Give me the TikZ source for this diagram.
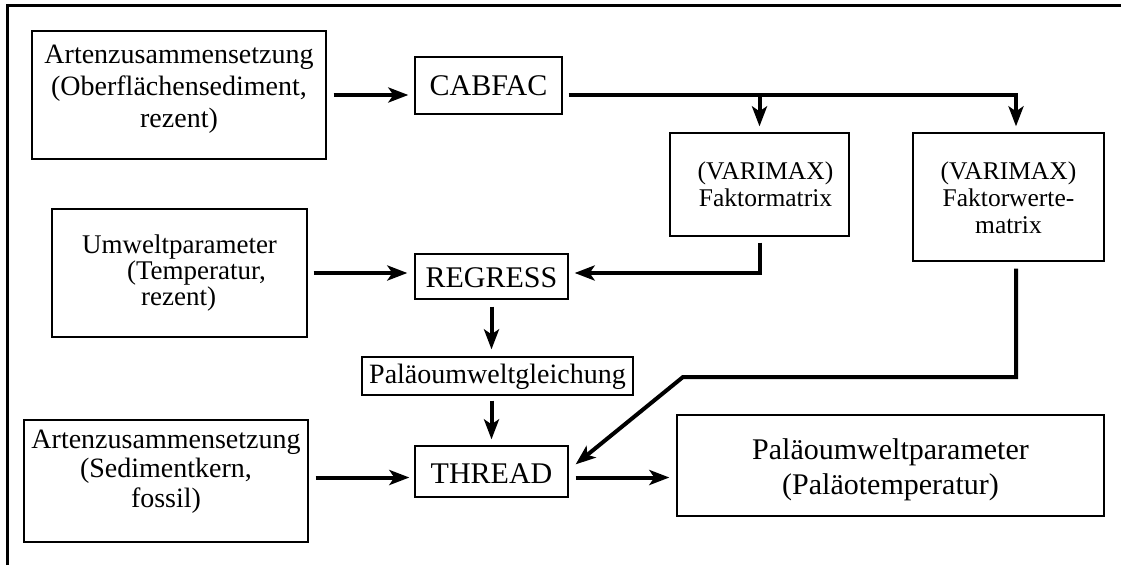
\documentclass[tikz,border=0pt]{standalone}
\usepackage{fontspec}
\setmainfont{Liberation Serif}
\usetikzlibrary{arrows.meta}
\newcommand{\tb}[3]{\raisebox{0pt}[#1][#2]{\begin{tabular}[t]{@{}c@{}}#3\end{tabular}}}
\newcommand{\tbl}[3]{\raisebox{0pt}[#1][#2]{\begin{tabular}[t]{@{}l@{}}#3\end{tabular}}}
\tikzset{
  box/.style={draw, line width=1.3pt, rectangle, inner sep=0pt, align=center},
  ln/.style={line width=4pt},
  arr/.style={ln, -{Stealth[length=20pt,width=15pt,inset=5pt]}},
  frame/.style={line width=3pt}
}
\begin{document}
\begin{tikzpicture}[x=1pt,y=-1pt]
\useasboundingbox (0,0) rectangle (1121,565);
% outer frame (top and left edges)
\coordinate (f1) at (7,565);
\coordinate (f2) at (7,5);
\coordinate (f3) at (1121,5);
\draw[frame] (f1) -- (f2) -- (f3);

\node[box, minimum width=294pt, minimum height=128pt, font=\fontsize{28}{32}\selectfont] (a1) at (179,95)
  {\tb{0pt}{64pt}{Artenzusammensetzung\\(Oberflächensediment,\\rezent)}};
\node[box, minimum width=147pt, minimum height=57pt, font=\fontsize{30}{36}\selectfont] (cab) at (488.5,85.5)
  {\tb{19pt}{0pt}{CABFAC}};
\node[box, minimum width=179pt, minimum height=103pt, font=\fontsize{25.5}{27}\selectfont] (fm) at (759.5,184.5)
  {\hspace*{12pt}\tb{0pt}{11pt}{(VARIMAX)\\Faktormatrix}};
\node[box, minimum width=191pt, minimum height=128pt, font=\fontsize{25.5}{27}\selectfont] (fw) at (1008.5,197)
  {\tb{0pt}{36pt}{(VARIMAX)\\Faktorwerte-\\matrix}};
\node[box, minimum width=255pt, minimum height=128pt, font=\fontsize{27}{25}\selectfont] (umw) at (179.5,273)
  {\tbl{0pt}{40pt}{Umweltparameter\\\hspace*{45pt}(Temperatur,\\\hspace*{59pt}rezent)}};
\node[box, minimum width=153pt, minimum height=45pt, font=\fontsize{30}{36}\selectfont] (reg) at (491.5,276.5)
  {\tb{21pt}{0pt}{REGRESS}};
\node[box, minimum width=271pt, minimum height=38pt, font=\fontsize{28}{32}\selectfont] (pg) at (497.5,376)
  {\tb{14pt}{0pt}{Paläoumweltgleichung}};
\node[box, minimum width=153pt, minimum height=51pt, font=\fontsize{30}{36}\selectfont] (thr) at (491.5,471.5)
  {\tb{23pt}{0pt}{THREAD}};
\node[box, minimum width=284pt, minimum height=122pt, font=\fontsize{28}{29.5}\selectfont] (a3) at (166,481)
  {\tb{0pt}{66pt}{Artenzusammensetzung\\(Sedimentkern,\\fossil)}};
\node[box, minimum width=427pt, minimum height=101pt, font=\fontsize{30}{35}\selectfont] (pp) at (890.5,465.5)
  {\tb{0pt}{13pt}{Paläoumweltparameter\\(Paläotemperatur)}};

% helper coordinates
\coordinate (rowT) at (0,477.5);
\coordinate (bend) at (683,377);
\coordinate (fwx) at ([xshift=7.5pt]fw.north);
\coordinate (fwy) at ([xshift=7.5pt]fw.south);
\coordinate (tip) at ([xshift=7pt,yshift=-19pt]thr.north east);

% connectors
\draw[arr, shorten <=7pt, shorten >=6pt] (a1.east) -- (cab.west |- a1.east);
\draw[arr, shorten <=6pt, shorten >=6pt] (cab.east |- a1.east) -| (fwx);
\draw[arr, shorten >=6pt] (fm.north |- a1.east) -- (fm.north);
\draw[arr, shorten <=6pt, shorten >=6pt] (fm.south) |- ([yshift=3.5pt]reg.east);
\draw[arr, shorten <=6pt, shorten >=7pt] (umw.east) -- (reg.west |- umw.east);
\draw[arr, shorten <=7pt, shorten >=7pt] (reg.south) -- (reg.south |- pg.north);
\draw[arr, shorten <=5pt, shorten >=6pt] (reg.south |- pg.south) -- (thr.north);
\draw[arr, shorten <=7pt, shorten >=5pt] (a3.east |- rowT) -- (thr.west |- rowT);
\draw[arr, shorten <=7pt, shorten >=7pt] (thr.east |- rowT) -- (pp.west |- rowT);
\draw[arr, shorten <=7pt] (fwy) -- (fwy |- bend) -- (bend) -- (tip);
\end{tikzpicture}
\end{document}
